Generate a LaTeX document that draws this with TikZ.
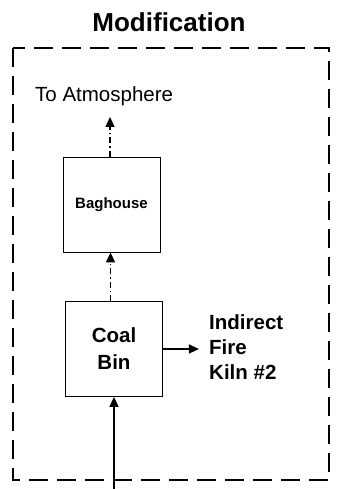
\documentclass[tikz,border=0pt]{standalone}
\usepackage{fontspec}
\setmainfont{Liberation Sans}
\usetikzlibrary{arrows.meta}
\begin{document}
\begin{tikzpicture}[x=1pt,y=-1pt,
  unitbox/.style={draw, line width=0.8pt, minimum width=97pt, minimum height=95pt, inner sep=0pt, align=center},
  flowarrow/.style={line width=1.6pt, -{Triangle[length=10pt,width=9pt]}},
  ventarrow/.style={line width=1.2pt, dash pattern=on 6pt off 3pt on 1.5pt off 3pt, -{Triangle[length=10pt,width=9pt]}},
  lbl/.style={inner sep=0pt, font=\bfseries\fontsize{20.5}{25}\selectfont, align=left}]
\useasboundingbox (0,0) rectangle (341,489);
\node[font=\bfseries\fontsize{26}{30}\selectfont, inner sep=0pt] (title) at (169,22) {Modification};
\draw[line width=1.8pt, dash pattern=on 19pt off 9pt] (13,48) rectangle (329,480);
\node[unitbox, font=\bfseries\fontsize{15}{18}\selectfont] (bag) at (111.5,204.5) {Baghouse};
\node[unitbox, font=\bfseries\fontsize{20.5}{27}\selectfont] (coal) at (114,349) {Coal\\Bin};
\node[inner sep=0pt, anchor=west, font=\fontsize{20.5}{24}\selectfont] (atm) at (35,96) {To Atmosphere};
\coordinate (atmtip) at (110,117);
\coordinate (feed) at (114,489);
\node[lbl, anchor=west] (kiln) at (209,347) {Indirect\\Fire\\Kiln \#2};
\draw[ventarrow] (bag.north -| atmtip) -- (atmtip);
\draw[ventarrow] (coal.north -| bag.south) ++(-1,0) -- ([xshift=-1pt]bag.south);
\draw[flowarrow] (feed) -- (coal.south -| feed);
\draw[flowarrow] (coal.east) -- ++(36,0) coordinate (kilntip);
\end{tikzpicture}
\end{document}
